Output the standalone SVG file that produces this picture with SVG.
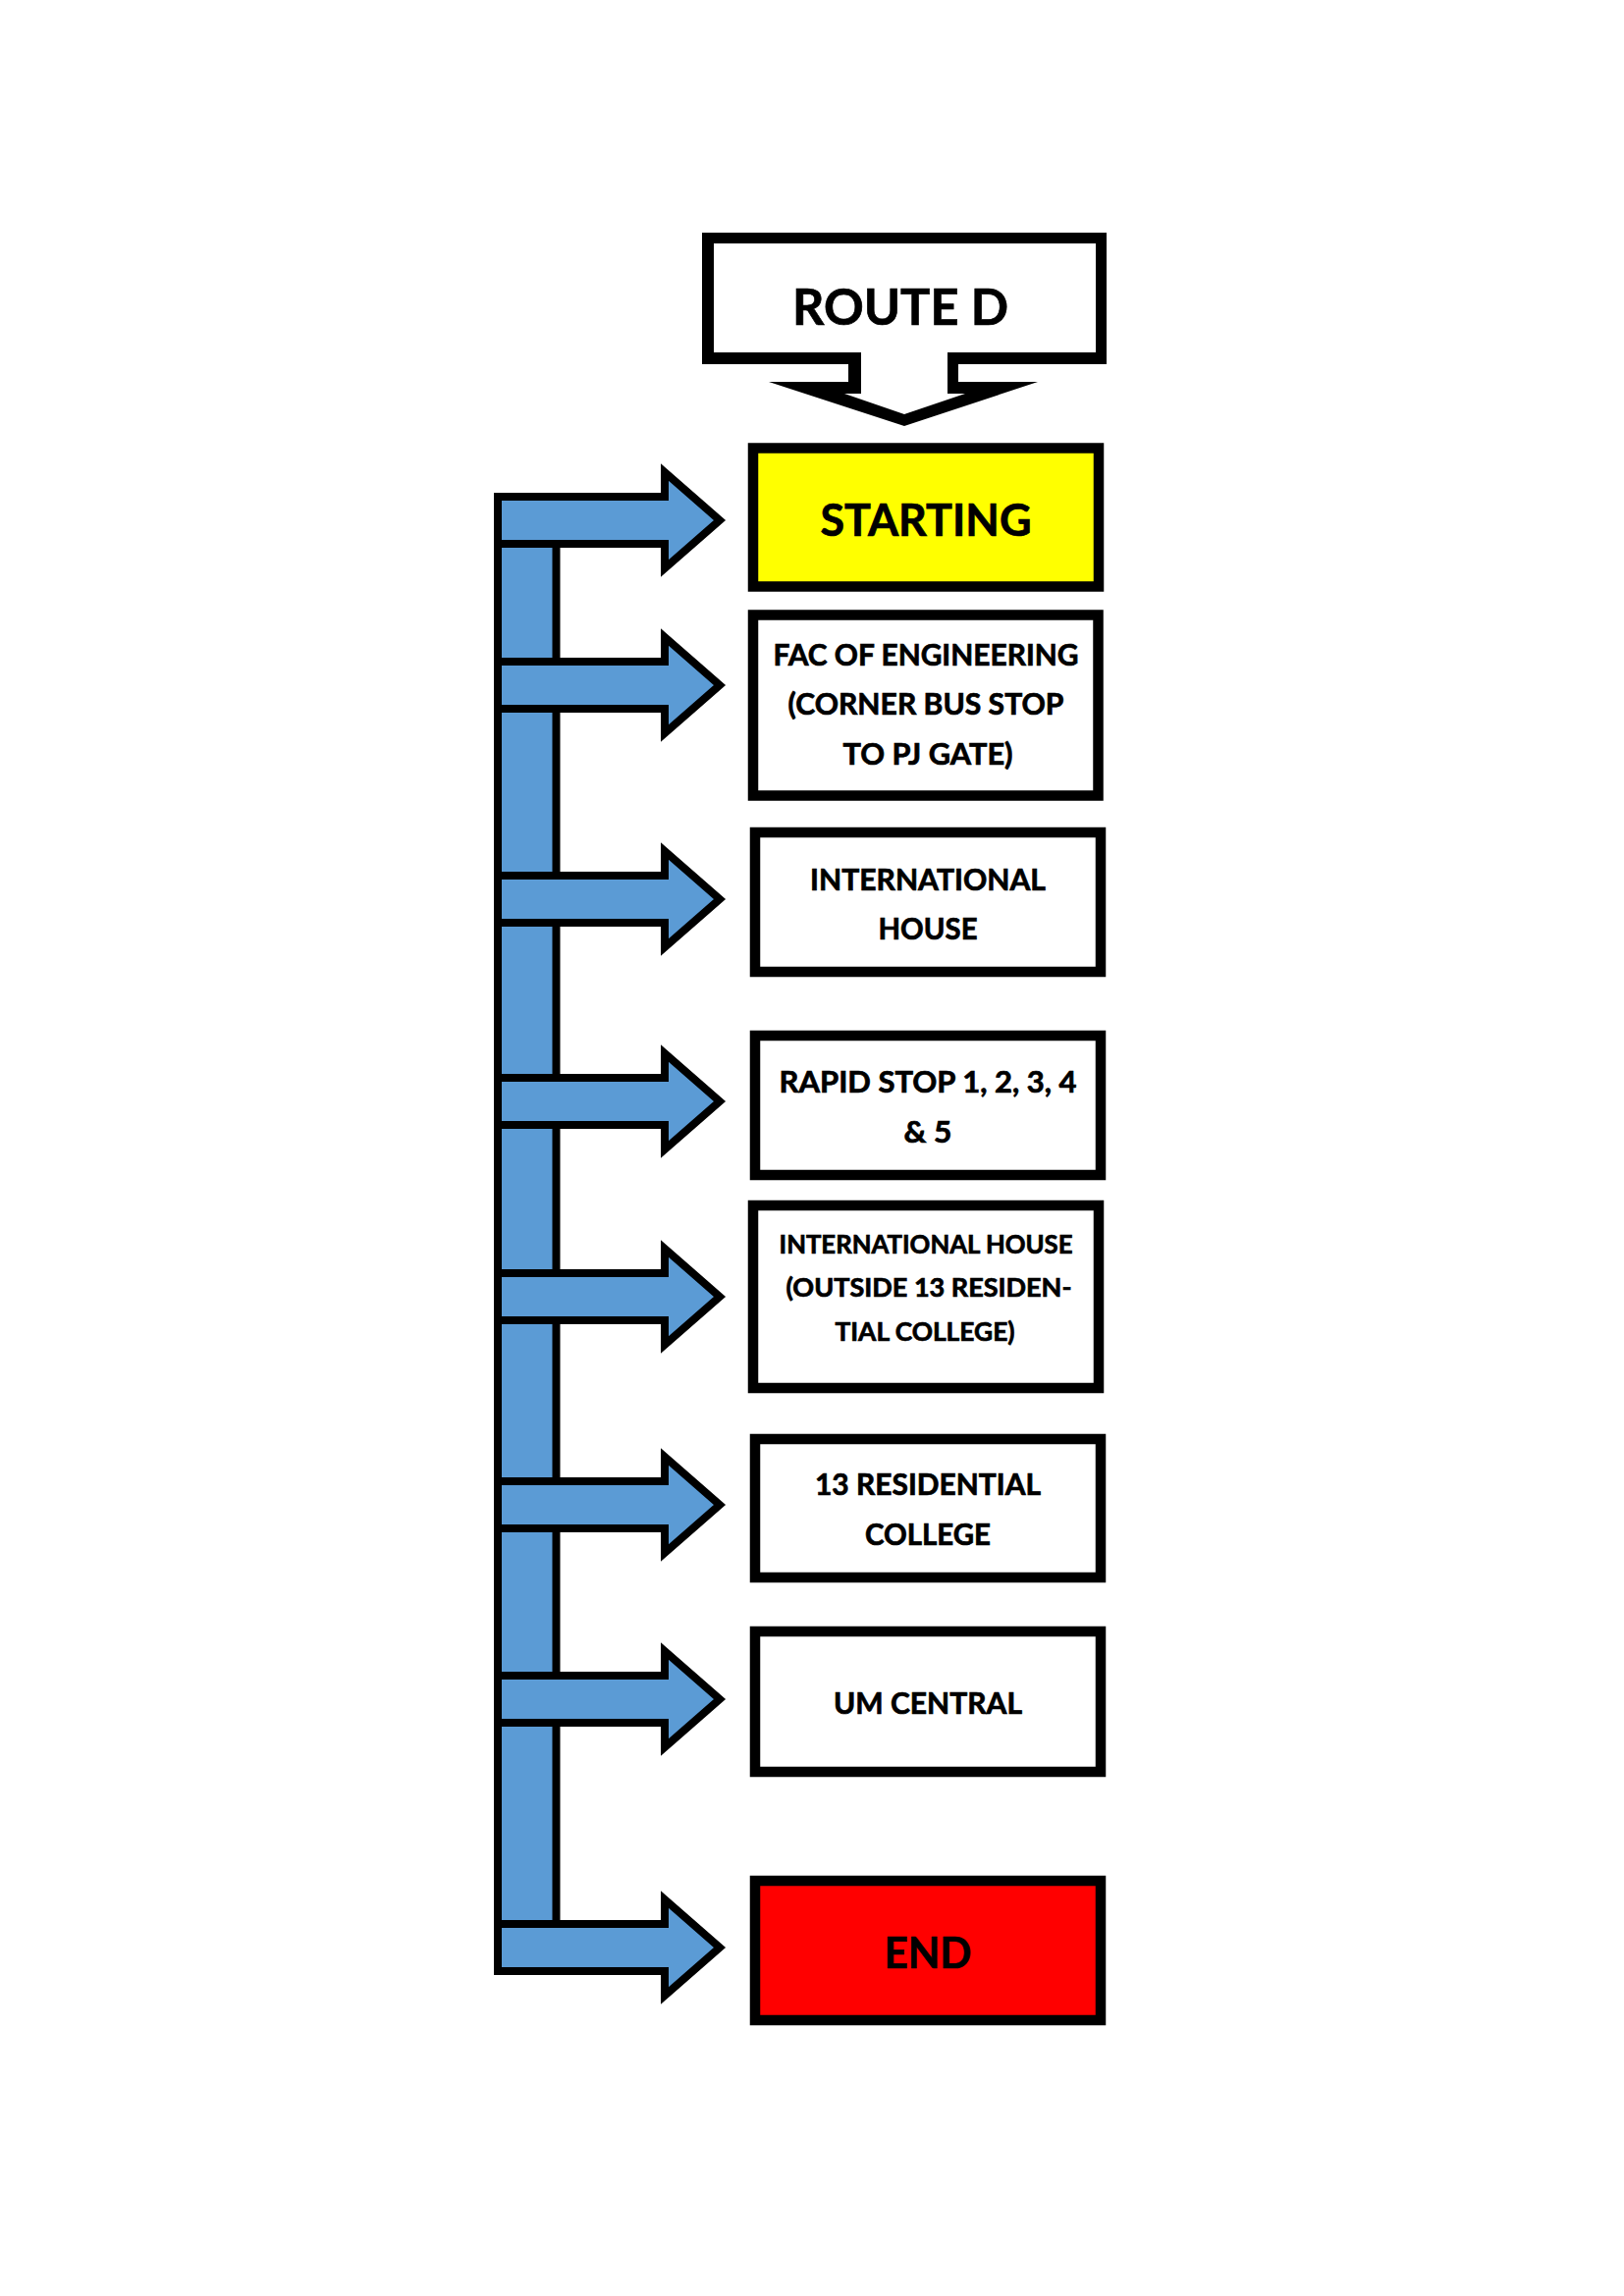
<svg xmlns="http://www.w3.org/2000/svg" width="1654" height="2339" viewBox="0 0 1654 2339">
<defs>
<style>
.box{stroke:#000;stroke-width:10.5;fill:#fff}
.arrow{fill:#5B9BD5;stroke:#000;stroke-width:8;stroke-linejoin:miter;stroke-miterlimit:10}
text{font-family:Lato,"Open Sans","Liberation Sans",sans-serif;font-weight:bold;fill:#000;stroke:#000;stroke-width:0.7;text-anchor:middle}
.t35{font-size:30.5px}
.t30{font-size:26.5px}
</style>
<path id="arr" d="M507,-24 H677 V-49 L733,0 L677,49 V24 H507 Z"/>
</defs>
<rect width="1654" height="2339" fill="#fff"/>

<g id="connectors">
<rect class="arrow" x="507" y="506" width="59.5" height="1502"/>
<use href="#arr" class="arrow" y="530"/>
<use href="#arr" class="arrow" y="698"/>
<use href="#arr" class="arrow" y="916"/>
<use href="#arr" class="arrow" y="1122"/>
<use href="#arr" class="arrow" y="1321"/>
<use href="#arr" class="arrow" y="1533"/>
<use href="#arr" class="arrow" y="1731"/>
<use href="#arr" class="arrow" y="1984"/>
</g>

<g id="route-d">
<path d="M715,237 H1127 V371 H976 V389 H1057 L921,434 L783,389 H864 V371 H715 Z" fill="#000"/>
<path d="M727,248 H1116 V359 H965 V401 H983 L921,422 L860,401 H877 V359 H727 Z" fill="#fff"/>
<text x="917" y="331" font-size="52" textLength="220" lengthAdjust="spacingAndGlyphs">ROUTE D</text>
</g>

<g id="starting">
<rect class="box" x="767" y="456.5" width="352" height="141" style="fill:#FFFF00"/>
<text x="943" y="546" font-size="45" textLength="215" lengthAdjust="spacingAndGlyphs">STARTING</text>
</g>

<g id="fac-engineering">
<rect class="box" x="767" y="626.5" width="351.5" height="184"/>
<text class="t35" x="943" y="678" textLength="311" lengthAdjust="spacingAndGlyphs">FAC OF ENGINEERING</text>
<text class="t35" x="943" y="728" textLength="281" lengthAdjust="spacingAndGlyphs">(CORNER BUS STOP</text>
<text class="t35" x="945" y="779" textLength="173" lengthAdjust="spacingAndGlyphs">TO PJ GATE)</text>
</g>

<g id="international-house">
<rect class="box" x="769" y="848" width="352" height="142"/>
<text class="t35" x="945" y="907" textLength="240" lengthAdjust="spacingAndGlyphs">INTERNATIONAL</text>
<text class="t35" x="945" y="957" textLength="101" lengthAdjust="spacingAndGlyphs">HOUSE</text>
</g>

<g id="rapid-stop">
<rect class="box" x="769" y="1055" width="352" height="142"/>
<text class="t35" x="945" y="1113" textLength="303" lengthAdjust="spacingAndGlyphs">RAPID STOP 1, 2, 3, 4</text>
<text class="t35" x="945" y="1164" textLength="49" lengthAdjust="spacingAndGlyphs">&amp; 5</text>
</g>

<g id="international-house-outside">
<rect class="box" x="767" y="1228" width="352" height="186"/>
<text class="t30" x="943" y="1277" textLength="299" lengthAdjust="spacingAndGlyphs">INTERNATIONAL HOUSE</text>
<text class="t30" x="946" y="1321" textLength="291" lengthAdjust="spacingAndGlyphs">(OUTSIDE 13 RESIDEN-</text>
<text class="t30" x="942" y="1366" textLength="183" lengthAdjust="spacingAndGlyphs">TIAL COLLEGE)</text>
</g>

<g id="residential-college">
<rect class="box" x="769" y="1466" width="352" height="141"/>
<text class="t35" x="945" y="1523" textLength="230" lengthAdjust="spacingAndGlyphs">13 RESIDENTIAL</text>
<text class="t35" x="945" y="1574" textLength="128" lengthAdjust="spacingAndGlyphs">COLLEGE</text>
</g>

<g id="um-central">
<rect class="box" x="769" y="1662" width="352" height="143"/>
<text class="t35" x="945" y="1746" textLength="192" lengthAdjust="spacingAndGlyphs">UM CENTRAL</text>
</g>

<g id="end">
<rect class="box" x="769" y="1916" width="352" height="142" style="fill:#FF0000"/>
<text x="945" y="2005" font-size="44" textLength="89" lengthAdjust="spacingAndGlyphs">END</text>
</g>
</svg>
